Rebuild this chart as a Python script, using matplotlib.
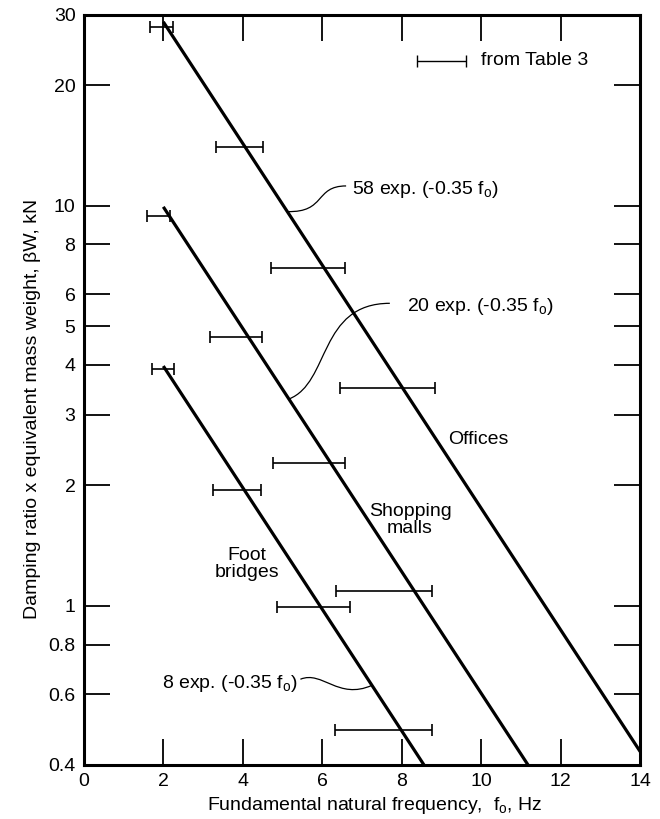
import numpy as np
import matplotlib
matplotlib.use("Agg")
import matplotlib.pyplot as plt
from matplotlib.path import Path
from matplotlib.patches import PathPatch

plt.rcParams['font.family'] = ['Liberation Sans', 'DejaVu Sans']
plt.rcParams['mathtext.default'] = 'regular'

# design curves: A * exp(-0.35 f)
coeffs = [58, 20, 8]
f_start = [2.0, 2.0, 2.0]
f_end = [14.0, 11.18, 8.56]
decay = 0.35

# horizontal ranges from Table 3 (f low, f high, y)
bar_lo = [1.66, 3.32, 4.71, 1.59, 3.17, 1.71, 4.76, 3.25, 6.45, 6.35, 4.86, 6.32]
bar_hi = [2.24, 4.51, 6.57, 2.17, 4.48, 2.27, 6.57, 4.46, 8.84, 8.76, 6.70, 8.76]
bar_y = [28.0, 14.0, 7.0, 9.4, 4.7, 3.9, 2.27, 1.95, 3.5, 1.09, 0.99, 0.49]

x_ticks = [0, 2, 4, 6, 8, 10, 12, 14]
y_ticks = [0.4, 0.6, 0.8, 1, 2, 3, 4, 5, 6, 8, 10, 20, 30]
y_labels = ['0.4', '0.6', '0.8', '1', '2', '3', '4', '5', '6', '8', '10', '20', '30']

FS = 14

fig = plt.figure(figsize=(6.6, 8.19), dpi=100)
ax = fig.add_axes([0.127, 0.066, 0.843, 0.916])
ax.set_yscale('log')
ax.set_xlim(0, 14)
ax.set_ylim(0.4, 30)

for a, f0, f1 in zip(coeffs, f_start, f_end):
    f = np.linspace(f0, f1, 50)
    ax.plot(f, a * np.exp(-decay * f), color='black', lw=2.3, solid_capstyle='butt')

for lo, hi, y in zip(bar_lo, bar_hi, bar_y):
    mid = (lo + hi) / 2
    ax.errorbar(mid, y, xerr=(hi - lo) / 2, fmt='none', ecolor='black',
                elinewidth=1.2, capsize=4, capthick=1.2)

# legend sample
ax.errorbar(9.0, 23.0, xerr=0.62, fmt='none', ecolor='black',
            elinewidth=1.0, capsize=4, capthick=1.0)
ax.text(10.0, 23.0, 'from Table 3', fontsize=FS, va='center', ha='left')

# curve labels with connectors
def connector(p0, c1, c2, p1):
    path = Path([p0, c1, c2, p1], [Path.MOVETO, Path.CURVE4, Path.CURVE4, Path.CURVE4])
    ax.add_patch(PathPatch(path, fc='none', ec='black', lw=0.9, transform=ax.transData))

ax.text(6.75, 11.0, '58 exp. (-0.35 f$_o$)', fontsize=FS, va='center', ha='left')
connector((5.12, 58 * np.exp(-decay * 5.12)), (6.1, 9.6), (5.8, 11.2), (6.6, 11.2))

ax.text(8.13, 5.6, '20 exp. (-0.35 f$_o$)', fontsize=FS, va='center', ha='left')
connector((5.16, 20 * np.exp(-decay * 5.16)), (6.2, 3.6), (5.9, 5.7), (7.7, 5.7))

ax.text(5.39, 0.64, '8 exp. (-0.35 f$_o$)', fontsize=FS, va='center', ha='right')
connector((5.45, 0.655), (6.0, 0.69), (6.4, 0.58), (7.25, 8 * np.exp(-decay * 7.25)))

ax.text(9.92, 2.6, 'Offices', fontsize=FS, ha='center', va='center')
ax.text(8.21, 1.64, 'Shopping\nmalls', fontsize=FS, ha='center', va='center', linespacing=1.0)
ax.text(4.1, 1.27, 'Foot\nbridges', fontsize=FS, ha='center', va='center', linespacing=1.0)

ax.set_xticks(x_ticks)
ax.set_xticklabels([str(t) for t in x_ticks])
ax.set_yticks(y_ticks)
ax.set_yticklabels(y_labels)
ax.yaxis.set_minor_locator(matplotlib.ticker.NullLocator())
ax.tick_params(axis='both', which='major', direction='in', length=19, width=1.3,
               labelsize=FS, top=True, right=True, pad=6)

for s in ax.spines.values():
    s.set_linewidth(2.2)

ax.set_xlabel('Fundamental natural frequency,  f$_o$, Hz', fontsize=FS)
ax.set_ylabel('Damping ratio x equivalent mass weight, \u03b2W, kN', fontsize=FS)
ax.xaxis.set_label_coords(0.523, -0.04)
ax.yaxis.set_label_coords(-0.077, 0.475)

fig.savefig('out.png', dpi=100)
